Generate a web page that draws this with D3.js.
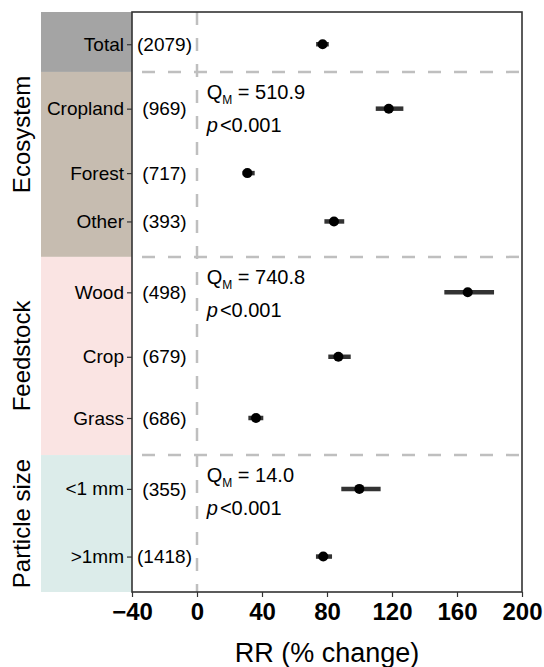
<!DOCTYPE html>
<html>
<head>
<meta charset="utf-8">
<script src="https://cdn.jsdelivr.net/npm/d3@7"></script>
<style>
  body { margin: 0; background: #fff; }
  text { font-family: "Liberation Sans", Arial, sans-serif; }
</style>
</head>
<body>
<script>
// rows, top to bottom
var categories = ["Total", "Cropland", "Forest", "Other", "Wood", "Crop", "Grass", "<1 mm", ">1mm"];
var counts = [2079, 969, 717, 393, 498, 679, 686, 355, 1418];
var means = [77.3, 118, 31, 84.3, 166.6, 87, 36.3, 99.9, 77.7];
var lower = [73.3, 110, 28, 78.4, 152.2, 80.8, 31.6, 88.8, 73.2];
var upper = [81.1, 127, 35.5, 90.6, 182.8, 94.6, 40.8, 113, 83.1];
// row position on the (continuous) category axis
var rowPos = [0.5, 1.5, 2.5, 3.25, 4.35, 5.35, 6.3, 7.4, 8.45];

// groups: band extent on the category axis
var groups = ["Total", "Ecosystem", "Feedstock", "Particle size"];
var groupStart = [0, 0.93, 3.8, 6.875];
var groupEnd = [0.93, 3.8, 6.875, 9];
var groupFill = ["#a4a4a4", "#c6bcb0", "#fae4e3", "#dcecea"];

var qmText = ["510.9", "740.8", "14.0"];
var pText = ["<0.001", "<0.001", "<0.001"];

var xTicks = [-40, 0, 40, 80, 120, 160, 200];

var width = 544, height = 667,
    margin = {top: 12, right: 22, bottom: 75, left: 132};

var svg = d3.select("body").append("svg")
    .attr("width", width)
    .attr("height", height);

var x = d3.scaleLinear()
    .domain([-40, 200])
    .range([margin.left, width - margin.right]);

var y = d3.scaleLinear()
    .domain([0, 9])
    .range([margin.top, height - margin.bottom]);

// coloured bands on the left
svg.append("g").selectAll("rect")
    .data(groups)
  .enter().append("rect")
    .attr("x", 41)
    .attr("y", function(d, i) { return y(groupStart[i]); })
    .attr("width", margin.left - 41)
    .attr("height", function(d, i) { return y(groupEnd[i]) - y(groupStart[i]); })
    .attr("fill", function(d, i) { return groupFill[i]; });

// group titles (Total has none, Ecosystem spans from the top)
var titleSpan = [null, [0, 3.8], [3.8, 6.875], [6.875, 9]];
svg.append("g").selectAll("text")
    .data(groups.slice(1))
  .enter().append("text")
    .attr("transform", function(d, i) {
      var s = titleSpan[i + 1];
      return "translate(30," + y((s[0] + s[1]) / 2) + ") rotate(-90)";
    })
    .attr("text-anchor", "middle")
    .attr("font-size", 24)
    .attr("fill", "#000")
    .text(function(d) { return d; });

// dashed reference lines
var dash = "13,13";
svg.append("line")
    .attr("x1", x(0)).attr("x2", x(0))
    .attr("y1", y(0)).attr("y2", y(9))
    .attr("stroke", "#bfbfbf")
    .attr("stroke-width", 2.5)
    .attr("stroke-dasharray", dash);

svg.append("g").selectAll("line")
    .data(groupStart.slice(1))
  .enter().append("line")
    .attr("x1", x(-40)).attr("x2", x(200))
    .attr("y1", function(d) { return y(d); })
    .attr("y2", function(d) { return y(d); })
    .attr("stroke", "#bfbfbf")
    .attr("stroke-width", 2.5)
    .attr("stroke-dasharray", dash)
    .attr("stroke-dashoffset", -10);

// sample sizes
svg.append("g").selectAll("text")
    .data(counts)
  .enter().append("text")
    .attr("x", x(-20))
    .attr("y", function(d, i) { return y(rowPos[i]); })
    .attr("dy", "0.35em")
    .attr("text-anchor", "middle")
    .attr("font-size", 19)
    .attr("fill", "#000")
    .text(function(d) { return "(" + d + ")"; });

// Q_M and p annotations
var ann = svg.append("g").selectAll("g")
    .data(qmText)
  .enter().append("g")
    .attr("transform", function(d, i) { return "translate(" + x(6) + "," + y(groupStart[i + 1]) + ")"; });

var q = ann.append("text")
    .attr("y", 27)
    .attr("font-size", 20)
    .attr("fill", "#000");
q.append("tspan").text("Q");
q.append("tspan").attr("font-size", 12).attr("dy", 5).text("M");
q.append("tspan").attr("dy", -5).text(function(d) { return " = " + d; });

var p = ann.append("text")
    .attr("y", 60)
    .attr("font-size", 20)
    .attr("fill", "#000");
p.append("tspan").attr("font-style", "italic").text("p");
p.append("tspan").attr("dx", 2).text(function(d, i) { return pText[i]; });

// error bars and points
svg.append("g").selectAll("line")
    .data(means)
  .enter().append("line")
    .attr("x1", function(d, i) { return x(lower[i]); })
    .attr("x2", function(d, i) { return x(upper[i]); })
    .attr("y1", function(d, i) { return y(rowPos[i]); })
    .attr("y2", function(d, i) { return y(rowPos[i]); })
    .attr("stroke", "#333")
    .attr("stroke-width", 4.5);

svg.append("g").selectAll("circle")
    .data(means)
  .enter().append("circle")
    .attr("cx", function(d) { return x(d); })
    .attr("cy", function(d, i) { return y(rowPos[i]); })
    .attr("r", 5)
    .attr("fill", "#000");

// panel border
svg.append("rect")
    .attr("x", x(-40))
    .attr("y", y(0))
    .attr("width", x(200) - x(-40))
    .attr("height", y(9) - y(0))
    .attr("fill", "none")
    .attr("stroke", "#333")
    .attr("stroke-width", 1.6);

// category axis
var yAxis = svg.append("g")
    .attr("transform", "translate(" + margin.left + ",0)")
    .call(d3.axisLeft(y)
      .tickValues(rowPos)
      .tickFormat(function(d, i) { return categories[i]; })
      .tickSize(5)
      .tickPadding(3));
yAxis.select(".domain").remove();
yAxis.selectAll(".tick line").attr("stroke", "#333").attr("stroke-width", 1.2);
yAxis.selectAll(".tick text")
    .attr("font-size", 19)
    .attr("font-family", "Liberation Sans, Arial, sans-serif")
    .attr("fill", "#000");

// value axis
var xAxis = svg.append("g")
    .attr("transform", "translate(0," + y(9) + ")")
    .call(d3.axisBottom(x)
      .tickValues(xTicks)
      .tickSize(5)
      .tickPadding(6));
xAxis.select(".domain").remove();
xAxis.selectAll(".tick line").attr("stroke", "#333").attr("stroke-width", 1.2);
xAxis.selectAll(".tick text")
    .attr("font-size", 24)
    .attr("font-weight", "bold")
    .attr("font-family", "Liberation Sans, Arial, sans-serif")
    .attr("fill", "#000");

svg.append("text")
    .attr("x", (x(-40) + x(200)) / 2)
    .attr("y", 662)
    .attr("text-anchor", "middle")
    .attr("font-size", 27)
    .attr("fill", "#000")
    .text("RR (% change)");
</script>
</body>
</html>
